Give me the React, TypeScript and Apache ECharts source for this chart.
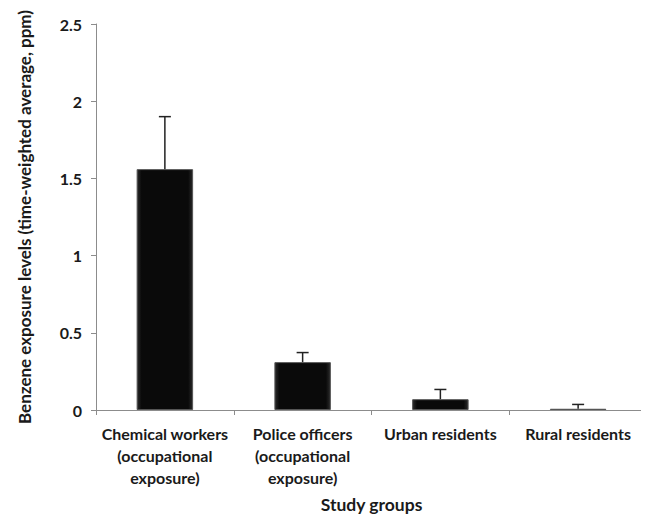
import React, { useEffect, useRef } from "react";
import * as echarts from "echarts";

const categories = [
  "Chemical workers\n(occupational\nexposure)",
  "Police officers\n(occupational\nexposure)",
  "Urban residents",
  "Rural residents",
];
const means = [1.56, 0.31, 0.07, 0.008];
const upperErrors = [1.9, 0.372, 0.133, 0.036];
const yTicks = [0, 0.5, 1, 1.5, 2, 2.5];

export default function App() {
  const ref = useRef<HTMLDivElement>(null);
  useEffect(() => {
    const chart = echarts.init(ref.current!, null, { renderer: "svg" });
    const font = "Lato, 'Open Sans', sans-serif";
    chart.setOption({
      animation: false,
      backgroundColor: "#ffffff",
      grid: { left: 79, right: 2, top: 16, bottom: 101, containLabel: false },
      xAxis: {
        type: "category",
        data: categories,
        name: "Study groups",
        nameLocation: "middle",
        nameGap: 85,
        nameTextStyle: { fontFamily: font, fontWeight: "bold", fontSize: 17.5, color: "#1a1a1a" },
        axisLine: { lineStyle: { color: "#8c8c8c", width: 1 } },
        axisTick: { show: true, alignWithLabel: false, length: 5, lineStyle: { color: "#8c8c8c" } },
        axisLabel: {
          fontFamily: font,
          fontWeight: "bold",
          fontSize: 16,
          color: "#1a1a1a",
          lineHeight: 22,
          margin: 12,
          interval: 0,
        },
      },
      yAxis: {
        type: "value",
        min: 0,
        max: 2.5,
        interval: 0.5,
        name: "Benzene exposure levels (time-weighted average, ppm)",
        nameLocation: "middle",
        nameGap: 63,
        nameTextStyle: { fontFamily: font, fontWeight: "bold", fontSize: 17, color: "#1a1a1a" },
        axisLine: { show: true, lineStyle: { color: "#8c8c8c", width: 1 } },
        axisTick: { show: true, length: 5, lineStyle: { color: "#8c8c8c" } },
        splitLine: { show: false },
        axisLabel: {
          fontFamily: font,
          fontWeight: "bold",
          fontSize: 16,
          color: "#1a1a1a",
          margin: 14,
          formatter: (v: number) => (yTicks.includes(v) ? String(v) : ""),
        },
      },
      series: [
        {
          type: "bar",
          data: means,
          barWidth: "41%",
          itemStyle: {
            color: new echarts.graphic.LinearGradient(0, 0, 1, 0, [
              { offset: 0, color: "#2a2a2a" },
              { offset: 0.08, color: "#0a0a0a" },
              { offset: 0.92, color: "#0a0a0a" },
              { offset: 1, color: "#2a2a2a" },
            ]),
            borderColor: "#555555",
            borderWidth: 1,
          },
          z: 2,
        },
        {
          type: "custom",
          data: means.map((m, i) => [i, m, upperErrors[i]]),
          z: 3,
          renderItem: (params: any, api: any) => {
            const x = api.value(0);
            const lo = api.coord([x, api.value(1)]);
            const hi = api.coord([x, api.value(2)]);
            const cap = 6;
            const style = { stroke: "#222222", lineWidth: 1.5 };
            return {
              type: "group",
              children: [
                { type: "line", shape: { x1: lo[0], y1: lo[1], x2: hi[0], y2: hi[1] }, style },
                { type: "line", shape: { x1: hi[0] - cap, y1: hi[1], x2: hi[0] + cap, y2: hi[1] }, style },
              ],
            };
          },
        },
      ],
    });
    return () => chart.dispose();
  }, []);
  return <div ref={ref} style={{ width: 641, height: 510 }} />;
}
